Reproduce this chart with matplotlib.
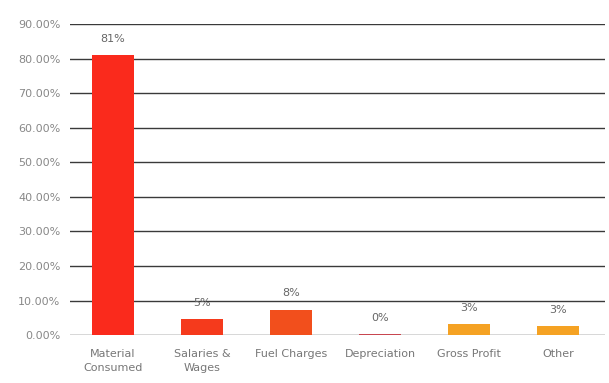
import matplotlib
matplotlib.use("Agg")
import matplotlib.pyplot as plt
from matplotlib.ticker import FuncFormatter

categories = ["Material\nConsumed", "Salaries &\nWages", "Fuel Charges", "Depreciation", "Gross Profit", "Other"]
values = [81.0, 4.7, 7.4, 0.3, 3.1, 2.5]
labels = ["81%", "5%", "8%", "0%", "3%", "3%"]
colors = ["#fa2a1c", "#f53a1c", "#f24f1c", "#c84650", "#f5a223", "#f5a223"]
yticks = [0, 10, 20, 30, 40, 50, 60, 70, 80, 90]

plt.rcParams['font.family'] = ['DejaVu Sans']

fig = plt.figure(figsize=(6.09, 3.83), dpi=100)
ax = fig.add_axes([0.115, 0.125, 0.878, 0.812])

x = list(range(len(categories)))
ax.bar([xi - 0.02 for xi in x], values, width=0.47, color=colors, zorder=3)
for xi, v, lab in zip(x, values, labels):
    ax.annotate(lab, (xi - 0.02, v), xytext=(0, 8), textcoords="offset points",
                ha="center", va="bottom", fontsize=8, color="#666666")

ax.set_xlim(-0.5, 5.5)
ax.set_ylim(0, 90)
ax.set_yticks(yticks)
ax.yaxis.set_major_formatter(FuncFormatter(lambda v, p: f"{v:.2f}%"))
ax.set_xticks([xi - 0.02 for xi in x])
ax.set_xticklabels(categories, fontsize=8, color="#777777", linespacing=1.45)
ax.tick_params(axis="y", length=0, pad=7, labelsize=8, labelcolor="#888888")
ax.tick_params(axis="x", length=0, pad=10)
ax.grid(axis="y", color="#3a3a3a", linewidth=1.0, zorder=0)
for s in ax.spines.values():
    s.set_visible(False)

fig.savefig("out.png", dpi=100)
